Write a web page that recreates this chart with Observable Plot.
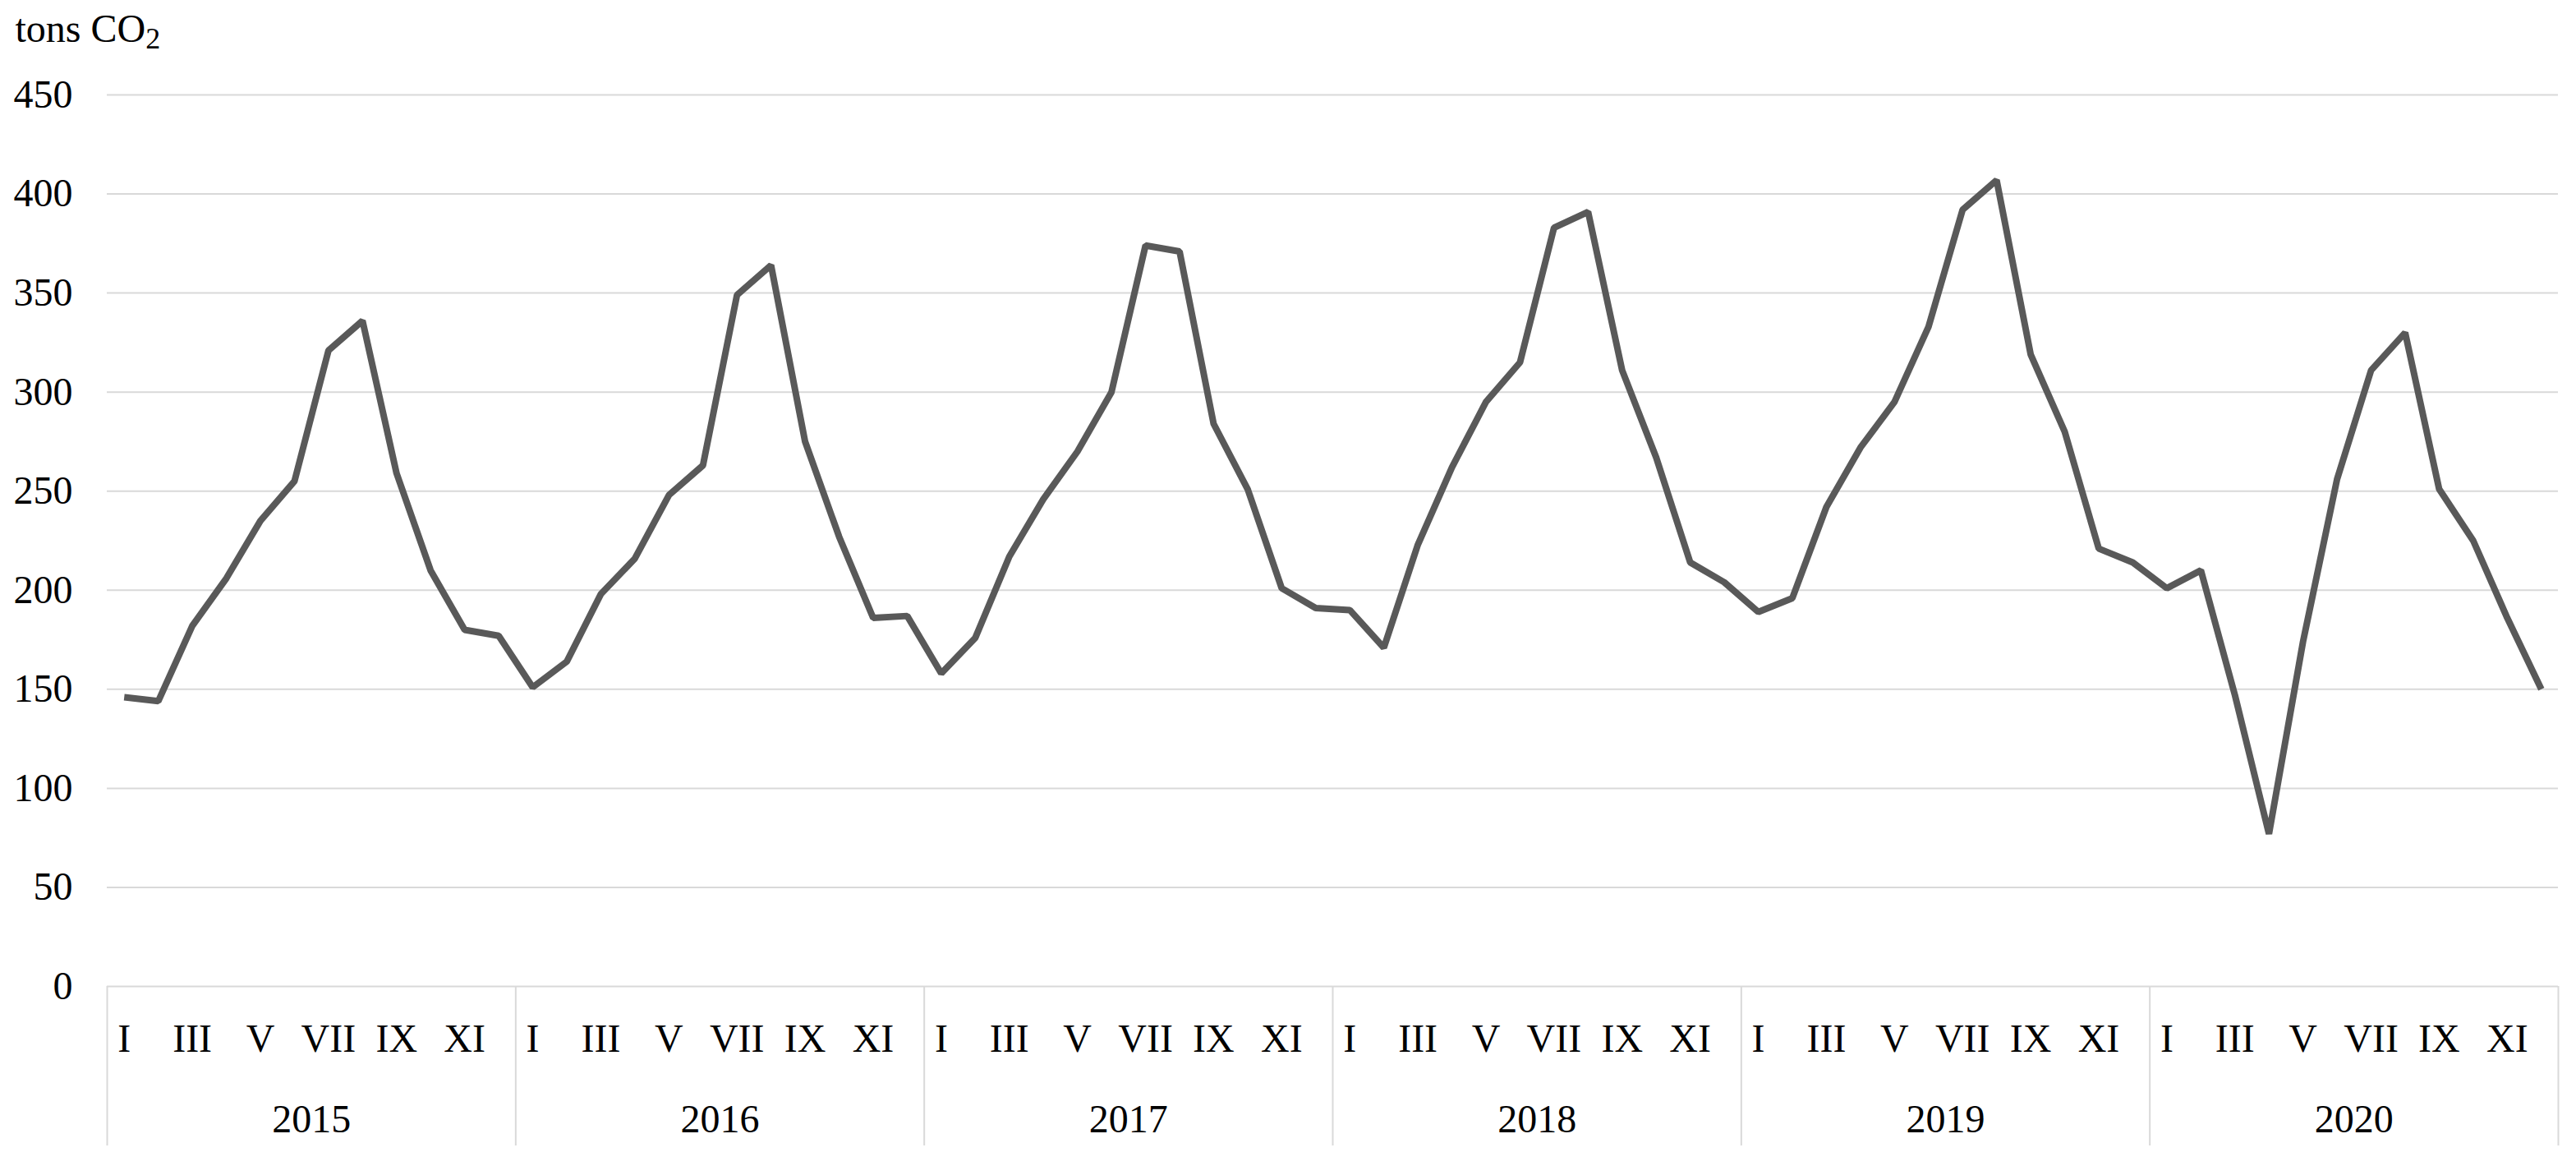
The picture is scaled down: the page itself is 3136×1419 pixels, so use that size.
<!DOCTYPE html>
<html>
<head>
<meta charset="utf-8">
<script src="https://cdn.jsdelivr.net/npm/d3@7"></script>
<script src="https://cdn.jsdelivr.net/npm/@observablehq/plot@0.6"></script>
<style>
  html, body { margin: 0; padding: 0; background: #ffffff; }
  svg { display: block; }
</style>
</head>
<body>
<div id="chart"></div>
<script>
// ---- data ----
const years = [2015, 2016, 2017, 2018, 2019, 2020];
const monthLabels = ["I", "II", "III", "IV", "V", "VI", "VII", "VIII", "IX", "X", "XI", "XII"];
const tons2015 = [146, 144, 182, 206, 235, 255, 321, 336, 259, 210, 180, 177];
const tons2016 = [151, 164, 198, 216, 248, 263, 349, 364, 275, 227, 186, 187];
const tons2017 = [158, 176, 217, 246, 270, 300, 374, 371, 284, 251, 201, 191];
const tons2018 = [190, 171, 223, 262, 295, 315, 383, 391, 311, 267, 214, 204];
const tons2019 = [189, 196, 242, 272, 295, 333, 392, 407, 319, 280, 221, 214];
const tons2020 = [201, 210, 147, 77, 174, 256, 311, 330, 251, 225, 186, 150];
const yTicks = [0, 50, 100, 150, 200, 250, 300, 350, 400, 450];
const unitLabel = "tons CO2";

// ---- derived tables ----
const series = [tons2015, tons2016, tons2017, tons2018, tons2019, tons2020];
const data = series.flatMap((vals, yi) =>
  vals.map((v, m) => ({ i: yi * 12 + m, year: years[yi], month: monthLabels[m], value: v }))
);
const shownMonths = data.filter(d => (d.i % 12) % 2 === 0);
const yearCenters = years.map((y, yi) => ({ year: String(y), x: yi * 12 + 5.5 }));
const separators = d3.range(0, years.length + 1).map(k => k * 12 - 0.5);

const font = "'Liberation Serif', 'DejaVu Serif', serif";
const grid = "#d9d9d9";

const chart = Plot.plot({
  width: 3136,
  height: 1419,
  marginLeft: 130,
  marginRight: 22,
  marginTop: 115,
  marginBottom: 219,
  style: { fontFamily: font, fontSize: "48px", background: "#ffffff", color: "#000000", overflow: "visible" },
  x: { domain: [-0.5, years.length * 12 - 0.5], axis: null },
  y: { domain: [0, 450], axis: null },
  marks: [
    Plot.ruleY(yTicks, { stroke: grid, strokeWidth: 2 }),
    Plot.ruleX(separators, { y1: 0, y2: 0, insetBottom: -194, stroke: grid, strokeWidth: 2 }),
    Plot.axisY({ ticks: yTicks, tickSize: 0, tickPadding: 42, label: null, fontSize: 48, fill: "#000" }),
    Plot.lineY(data, { x: "i", y: "value", stroke: "#595959", strokeWidth: 8, strokeLinejoin: "miter", strokeLinecap: "butt" }),
    Plot.text(shownMonths, { x: "i", y: 0, dy: 64, text: "month", fontSize: 48, fill: "#000" }),
    Plot.text(yearCenters, { x: "x", y: 0, dy: 162, text: "year", fontSize: 48, fill: "#000" }),
    Plot.text([unitLabel], { text: d => d, frameAnchor: "top-left", lineAnchor: "middle", dx: -112, dy: -80, textAnchor: "start", fontSize: 48, fill: "#000" })
  ]
});

// subscript "2" in CO2 (kept as real text)
chart.querySelectorAll("text, tspan").forEach(el => {
  if (el.childElementCount === 0 && el.textContent === unitLabel) {
    el.textContent = "tons CO";
    const sub = document.createElementNS("http://www.w3.org/2000/svg", "tspan");
    sub.setAttribute("dy", "8");
    sub.setAttribute("font-size", "36");
    sub.textContent = "2";
    el.appendChild(sub);
  }
});

document.getElementById("chart").appendChild(chart);
</script>
</body>
</html>
